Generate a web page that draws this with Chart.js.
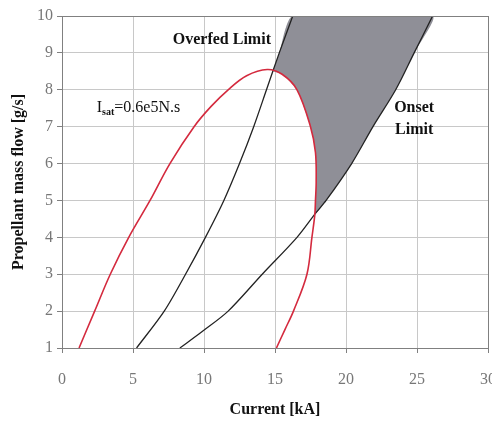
<!DOCTYPE html>
<html>
<head>
<meta charset="utf-8">
<script src="https://cdn.jsdelivr.net/npm/chart.js@4.4.0/dist/chart.umd.min.js"></script>
<style>
  html, body { margin: 0; padding: 0; background: #fff; }
  #wrap { width: 492px; height: 421px; }
</style>
</head>
<body>
<div id="wrap"><canvas id="thrusterChart" width="492" height="421"></canvas></div>
<script>
// Isat = 0.6e5 N.s 곡선 (빨간색)
const satX = [1.2, 2.3, 3.4, 4.7, 6.2, 7.6, 9.3, 10.5, 11.7, 13.0, 14.45, 15.5, 16.55, 17.5, 17.85, 17.9, 17.85, 17.8, 17.6, 17.25, 16.3, 15.7, 15.1];
const satY = [1, 2, 3, 4, 5, 6, 7, 7.55, 8.0, 8.38, 8.55, 8.42, 8.0, 7.0, 6.3, 5.5, 5.0, 4.6, 4, 3, 2, 1.5, 1];

// Overfed Limit
const overfedX = [5.25, 7.2, 8.7, 10.1, 11.4, 12.5, 13.5, 14.4, 15.3, 16.25];
const overfedY = [1, 2, 3, 4, 5, 6, 7, 8, 9, 10];

// Onset Limit
const onsetX = [8.3, 9.85, 11.7, 14.1, 16.55, 17.85, 18.6, 20.4, 21.9, 23.5, 24.8, 26.1];
const onsetY = [1, 1.44, 2, 3, 4, 4.65, 5, 6, 7, 8, 9, 10];

// 회색 운전 영역 경계
const regionX = [14.85, 15.3, 16.25, 26.1, 24.8, 23.5, 21.9, 20.4, 18.6, 17.85, 17.85, 17.9, 17.85, 17.5, 16.55, 15.5, 14.85];
const regionY = [8.5, 9, 10, 10, 9, 8, 7, 6, 5, 4.65, 5.0, 5.5, 6.3, 7, 8, 8.42, 8.5];

const xTicks = [0, 5, 10, 15, 20, 25, 30];
const yTicks = [1, 2, 3, 4, 5, 6, 7, 8, 9, 10];

const zip = (xs, ys) => xs.map((x, i) => ({ x, y: ys[i] }));

const serif = "'Liberation Serif', 'Times New Roman', serif";

// 곡선 라벨 그리기
const labelPlugin = {
  id: 'curveLabels',
  afterDatasetsDraw(chart) {
    const { ctx, scales } = chart;
    const px = (v) => scales.x.getPixelForValue(v);
    const py = (v) => scales.y.getPixelForValue(v);
    ctx.save();
    ctx.fillStyle = '#111';
    ctx.textBaseline = 'middle';

    ctx.font = 'bold 16px ' + serif;
    ctx.textAlign = 'left';
    ctx.fillText('Overfed Limit', px(7.8), py(9.35));
    ctx.textAlign = 'center';
    ctx.fillText('Onset', px(24.8), py(7.5));
    ctx.fillText('Limit', px(24.8), py(6.9));

    ctx.textAlign = 'left';
    let x0 = px(2.45);
    const yMid = py(7.5);
    ctx.font = '16px ' + serif;
    ctx.fillText('I', x0, yMid);
    x0 += ctx.measureText('I').width;
    ctx.font = 'bold 10px ' + serif;
    ctx.fillText('sat', x0, yMid + 4);
    x0 += ctx.measureText('sat').width;
    ctx.font = '16px ' + serif;
    ctx.fillText('=0.6e5N.s', x0, yMid);
    ctx.restore();
  },
  afterDraw(chart) {
    const { ctx, chartArea: a } = chart;
    ctx.save();
    ctx.strokeStyle = '#808080';
    ctx.lineWidth = 1;
    ctx.strokeRect(a.left + 0.5, a.top + 0.5, a.right - a.left, a.bottom - a.top);
    ctx.restore();
  },
};

const cfg = {
  type: 'scatter',
  data: {
    datasets: [
      {
        label: 'region',
        data: zip(regionX, regionY),
        showLine: true,
        borderWidth: 0,
        borderColor: 'rgba(0,0,0,0)',
        backgroundColor: '#8f8f97',
        fill: 'shape',
        pointRadius: 0,
        tension: 0.2,
        order: 10,
      },
      {
        label: 'Isat',
        data: zip(satX, satY),
        showLine: true,
        borderColor: '#d42a3e',
        borderWidth: 1.6,
        pointRadius: 0,
        tension: 0.35,
        fill: false,
        order: 1,
      },
      {
        label: 'Overfed',
        data: zip(overfedX, overfedY),
        showLine: true,
        borderColor: '#222',
        borderWidth: 1.3,
        pointRadius: 0,
        tension: 0.3,
        fill: false,
        order: 2,
      },
      {
        label: 'Onset',
        data: zip(onsetX, onsetY),
        showLine: true,
        borderColor: '#222',
        borderWidth: 1.3,
        pointRadius: 0,
        tension: 0.3,
        fill: false,
        order: 2,
      },
    ],
  },
  options: {
    responsive: false,
    animation: false,
    layout: { padding: { top: 16, right: 4, left: 0, bottom: 0 } },
    plugins: {
      legend: { display: false },
      tooltip: { enabled: false },
    },
    scales: {
      x: {
        type: 'linear',
        min: 0,
        max: 30,
        afterBuildTicks: (s) => { s.ticks = xTicks.map((v) => ({ value: v })); },
        afterFit: (s) => { s.height = 73; s.paddingLeft = 0; s.paddingRight = 0; },
        grid: { color: '#c8c8c8', tickColor: '#808080', tickLength: 5 },
        border: { color: '#808080' },
        ticks: { color: '#777', padding: 17, font: { family: serif, size: 16 } },
        title: {
          display: true,
          text: 'Current [kA]',
          color: '#111',
          padding: { top: 0, bottom: 2 },
          font: { family: serif, size: 16, weight: 'bold' },
        },
      },
      y: {
        type: 'linear',
        min: 1,
        max: 10,
        afterBuildTicks: (s) => { s.ticks = yTicks.map((v) => ({ value: v })); },
        afterFit: (s) => { s.width = 62; s.paddingTop = 0; s.paddingBottom = 0; },
        grid: { color: '#c8c8c8', tickColor: '#808080', tickLength: 5 },
        border: { color: '#808080' },
        ticks: { color: '#777', padding: 4, font: { family: serif, size: 16 } },
        title: {
          display: true,
          text: 'Propellant mass flow [g/s]',
          color: '#111',
          padding: { top: 9, bottom: 0 },
          font: { family: serif, size: 16, weight: 'bold' },
        },
      },
    },
  },
  plugins: [labelPlugin],
};

new Chart(document.getElementById('thrusterChart'), cfg);
</script>
</body>
</html>
